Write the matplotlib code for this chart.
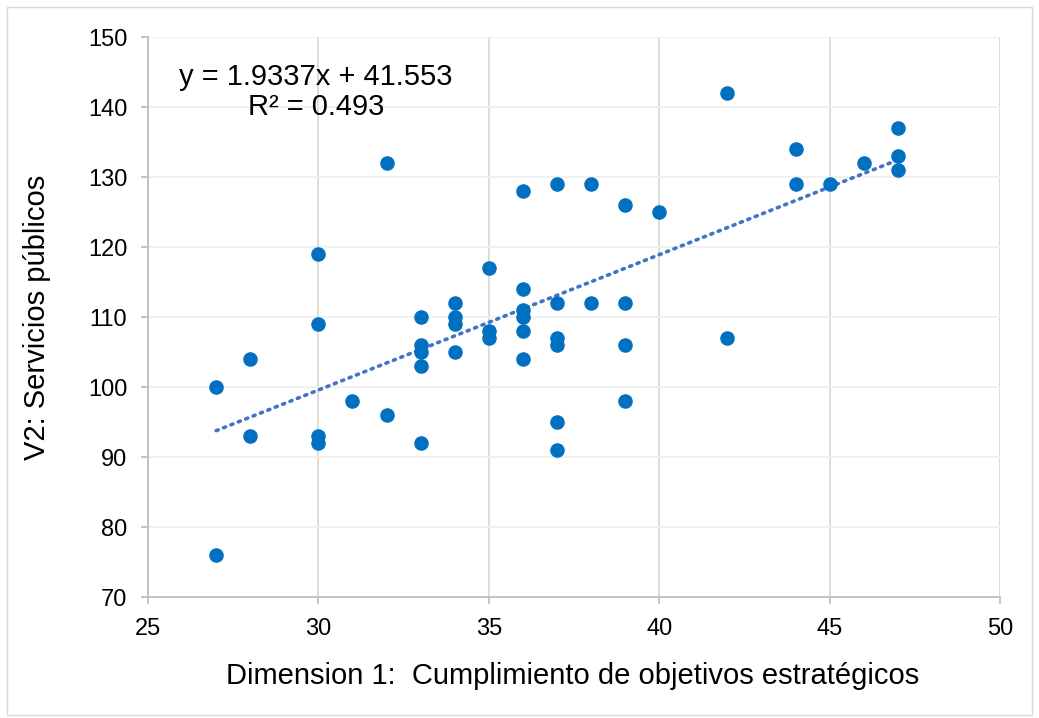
import numpy as np
import matplotlib.pyplot as plt
from matplotlib.patches import Rectangle

# data
dim1 = [27, 27, 28, 28, 30, 30, 30, 30, 31, 32, 32,
        33, 33, 33, 33, 33, 34, 34, 34, 34, 35, 35, 35,
        36, 36, 36, 36, 36, 36, 37, 37, 37, 37, 37, 37,
        38, 38, 39, 39, 39, 39, 40, 42, 42, 44, 44, 45, 46, 47, 47, 47]
serv = [100, 76, 104, 93, 119, 109, 93, 92, 98, 132, 96,
        110, 106, 105, 103, 92, 112, 110, 109, 105, 117, 108, 107,
        128, 114, 111, 110, 108, 104, 129, 112, 107, 106, 95, 91,
        129, 112, 126, 112, 106, 98, 125, 142, 107, 134, 129, 129, 132, 137, 133, 131]

# trendline coefficients as printed on the chart
slope = 1.9337
intercept = 41.553
r2 = 0.493

plt.rcParams['font.family'] = ['Liberation Sans', 'DejaVu Sans']

fig = plt.figure(figsize=(10.39, 7.18), dpi=100)
ax = fig.add_axes([148/1039, 1 - 597/718, 852/1039, 560/718])

# outer chart border
fig.patches.append(Rectangle((7/1039, 3/718), 1025/1039, 708/718, transform=fig.transFigure,
                             fill=False, edgecolor='#D9D9D9', linewidth=1))

ax.set_xlim(25, 50)
ax.set_ylim(70, 150)
ax.set_xticks(np.arange(25, 51, 5))
ax.set_yticks(np.arange(70, 151, 10))

ax.grid(axis='x', color='#D9D9D9', linewidth=1.3)
ax.grid(axis='y', color='#F0F0F0', linewidth=1.3)
ax.set_axisbelow(True)

for s in ['top', 'right']:
    ax.spines[s].set_visible(False)
for s in ['left', 'bottom']:
    ax.spines[s].set_color('#BFBFBF')
    ax.spines[s].set_linewidth(1.3)
ax.tick_params(colors='#BFBFBF', length=5, width=1.3, labelcolor='black', labelsize=17)
ax.tick_params(axis='x', pad=10)
ax.tick_params(axis='y', pad=10)

xs = np.array([min(dim1), max(dim1)])
ax.plot(xs, slope * xs + intercept, color='#4472C4', linestyle=(0, (0.6, 1.6)),
        linewidth=2.6, dash_capstyle='round', zorder=2)
ax.scatter(dim1, serv, s=110, color='#0070C0', zorder=3, linewidths=0)

ax.text(316/1039, 1 - 92/718, 'y = %.4fx + %.3f\nR² = %.3f' % (slope, intercept, r2),
        transform=fig.transFigure, ha='center', va='center', fontsize=21, linespacing=1.1)

fig.text(573/1039, 1 - 676/718, 'Dimension 1:  Cumplimiento de objetivos estratégicos',
         ha='center', va='center', fontsize=21)
fig.text(37/1039, 1 - 317/718, 'V2: Servicios públicos', ha='center', va='center',
         rotation=90, fontsize=21)

fig.savefig('out.png', dpi=100)
